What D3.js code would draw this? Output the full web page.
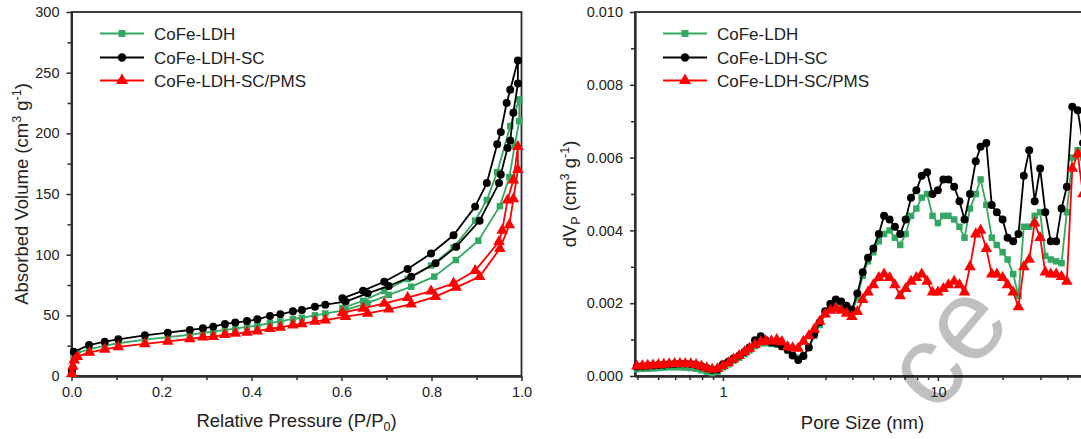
<!DOCTYPE html>
<html>
<head>
<meta charset="utf-8">
<script src="https://cdn.jsdelivr.net/npm/d3@7"></script>
<style>
  body { margin: 0; background: #fff; }
  svg { display: block; font-family: "Liberation Sans", Arial, sans-serif; }
</style>
</head>
<body>
<svg id="chart" width="1081" height="439"></svg>
<script>
// ---- data ----
const seriesNames = ['CoFe-LDH', 'CoFe-LDH-SC', 'CoFe-LDH-SC/PMS'];

// N2 isotherms: adsorption branch then desorption branch, in drawing order
const ldhP = [0.001, 0.005, 0.013, 0.039, 0.074, 0.104, 0.163, 0.214, 0.263, 0.292, 0.315, 0.341, 0.364, 0.39, 0.413, 0.441, 0.464, 0.492, 0.512, 0.541, 0.564, 0.609, 0.658, 0.705, 0.755, 0.806, 0.854, 0.904, 0.952, 0.973, 0.985, 0.995,
              0.995, 0.975, 0.946, 0.923, 0.897, 0.849, 0.799, 0.747, 0.695, 0.648, 0.602];
const ldhV = [3, 17, 19, 22, 25, 27, 30, 32, 34, 35.5, 36.5, 38, 39, 40.5, 41.5, 43.5, 45, 47, 48, 50, 51.5, 54.5, 60, 66.8, 73.6, 81.9, 95.6, 111.5, 140, 164, 190, 210,
              228, 206, 168, 145, 128, 106, 91, 80, 70, 62, 56];

const scP = [0.001, 0.005, 0.039, 0.074, 0.104, 0.163, 0.214, 0.263, 0.292, 0.315, 0.341, 0.364, 0.39, 0.413, 0.441, 0.464, 0.492, 0.512, 0.541, 0.564, 0.609, 0.658, 0.705, 0.755, 0.809, 0.855, 0.907, 0.95, 0.954, 0.969, 0.975, 0.982, 0.992,
             0.992, 0.975, 0.967, 0.954, 0.946, 0.923, 0.897, 0.849, 0.799, 0.747, 0.695, 0.648, 0.602];
const scV = [4, 20, 25.5, 28.3, 30.2, 33.5, 35.7, 37.9, 39.3, 40.7, 42.9, 44, 45.3, 46.7, 49.5, 50.8, 53.3, 54.4, 57.1, 58.8, 61.3, 68.1, 74.2, 81.9, 92.9, 106.6, 128, 159, 166, 188, 194, 217, 241,
             260, 236, 225, 201, 191, 159, 139.6, 116, 101, 88.2, 77.7, 70.3, 64];

const pmsP = [0.001, 0.003, 0.006, 0.013, 0.04, 0.074, 0.104, 0.163, 0.214, 0.263, 0.292, 0.315, 0.341, 0.364, 0.39, 0.413, 0.441, 0.464, 0.492, 0.512, 0.541, 0.564, 0.609, 0.658, 0.705, 0.755, 0.809, 0.855, 0.907, 0.952, 0.973, 0.982, 0.992,
              0.992, 0.982, 0.969, 0.957, 0.95, 0.897, 0.849, 0.799, 0.747, 0.695, 0.648, 0.602];
const pmsV = [2, 8, 13, 16, 19.5, 22, 24, 26.5, 28.5, 30.5, 32, 32.5, 34, 35, 36, 37, 39, 40, 42, 43, 45, 46, 48.9, 51.6, 55, 59.3, 65.4, 73, 81.9, 105, 124.5, 146, 170,
              189, 161.5, 145, 120, 110.7, 86.8, 76.4, 70, 64.6, 59.9, 55.8, 52.2];

// pore size distribution
const poreSize = [0.398, 0.422, 0.447, 0.473, 0.501, 0.531, 0.562, 0.596, 0.631, 0.668, 0.708, 0.750, 0.794, 0.841, 0.891, 0.944,
                  1.00, 1.06, 1.12, 1.19, 1.26, 1.33, 1.41, 1.50, 1.58, 1.68, 1.78, 1.88, 2.00, 2.11, 2.24, 2.37,
                  2.51, 2.66, 2.82, 2.99, 3.16, 3.35, 3.55, 3.76, 3.98, 4.22, 4.47, 4.73,
                  5.01, 5.31, 5.62, 5.96, 6.31, 6.68, 7.08, 7.50, 7.94, 8.41, 8.91, 9.44, 10.0, 10.6, 11.2, 11.9, 12.6, 13.3,
                  14.1, 15.0, 15.8, 16.8, 17.8, 18.8, 20.0, 21.1, 22.4, 23.7, 25.1, 26.6, 28.2, 29.9, 31.6, 33.5, 35.5, 37.6, 39.8, 42.2, 44.7, 47.3];
const poreLDH = [0.00019, 0.00020, 0.00020, 0.00021, 0.00022, 0.00023, 0.00024, 0.00024, 0.00024, 0.00023, 0.00022, 0.00020, 0.00016, 0.00012, 0.00008, 0.00012,
                 0.00024, 0.00032, 0.00042, 0.00050, 0.00060, 0.00070, 0.00082, 0.00090, 0.00090, 0.00088, 0.00086, 0.00080, 0.00070, 0.00058, 0.00050, 0.00056,
                 0.00078, 0.00110, 0.00140, 0.00170, 0.00185, 0.00194, 0.00192, 0.00182, 0.00174, 0.00215, 0.00275, 0.00315,
                 0.0034, 0.0037, 0.0039, 0.0040, 0.0038, 0.0036, 0.0039, 0.0044, 0.0046, 0.0049, 0.0050, 0.0044, 0.0042, 0.0044, 0.0044, 0.0043, 0.0041, 0.0038,
                 0.0046, 0.0050, 0.0054, 0.0047, 0.0038, 0.0036, 0.0034, 0.0032, 0.0028, 0.0022, 0.0041, 0.0041, 0.0044, 0.0045, 0.0033, 0.0032, 0.00315, 0.0031, 0.0045, 0.0060, 0.0062, 0.0060];
const poreSC = [0.00026, 0.00027, 0.00028, 0.00029, 0.00030, 0.00031, 0.00032, 0.00033, 0.00034, 0.00034, 0.00033, 0.00031, 0.00027, 0.00022, 0.00017, 0.00018,
                0.00032, 0.00039, 0.00048, 0.00056, 0.00066, 0.00078, 0.00098, 0.00109, 0.00098, 0.00093, 0.00090, 0.00082, 0.00072, 0.00056, 0.00044, 0.00055,
                0.00078, 0.00115, 0.00148, 0.00178, 0.00198, 0.00210, 0.00205, 0.00193, 0.00182, 0.00227, 0.00285, 0.00325,
                0.0035, 0.0039, 0.0044, 0.0043, 0.0041, 0.0039, 0.0043, 0.0049, 0.0051, 0.0055, 0.0056, 0.0050, 0.0051, 0.0054, 0.0054, 0.0052, 0.0048, 0.0043,
                0.0050, 0.0059, 0.0063, 0.0064, 0.0047, 0.0045, 0.0043, 0.0038, 0.0037, 0.0039, 0.0055, 0.0062, 0.0048, 0.0057, 0.0045, 0.0037, 0.0037, 0.0046, 0.0052, 0.0074, 0.0073, 0.0064];
const porePMS = [0.00027, 0.00028, 0.00029, 0.00030, 0.00031, 0.00032, 0.00033, 0.00034, 0.00034, 0.00034, 0.00033, 0.00031, 0.00027, 0.00022, 0.00018, 0.00020,
                 0.00028, 0.00036, 0.00046, 0.00056, 0.00066, 0.00076, 0.00086, 0.00094, 0.00096, 0.00096, 0.00100, 0.00094, 0.00080, 0.00077, 0.00076, 0.00095,
                 0.00110, 0.00128, 0.00150, 0.00170, 0.00180, 0.00186, 0.00180, 0.00172, 0.00163, 0.00177, 0.00210, 0.00230,
                 0.0025, 0.0027, 0.0028, 0.0027, 0.0025, 0.0022, 0.0024, 0.0026, 0.0027, 0.0028, 0.0026, 0.0023, 0.0023, 0.0024, 0.0025, 0.0026, 0.0025, 0.0023,
                 0.0030, 0.0039, 0.0040, 0.0035, 0.0028, 0.0028, 0.0027, 0.0025, 0.0023, 0.0019, 0.0030, 0.0032, 0.0042, 0.0038, 0.00285, 0.0028, 0.0028, 0.00273, 0.0026, 0.0057, 0.0061, 0.0050];

const leftXTicks = [0, 0.2, 0.4, 0.6, 0.8, 1.0];
const leftYTicks = [0, 50, 100, 150, 200, 250, 300];
const rightXTicks = [1, 10];
const rightYTicks = [0, 0.002, 0.004, 0.006, 0.008, 0.010];

// ---- styles ----
const colors = ['#33a862', '#000000', '#ff0000'];
const symbols = [d3.symbolSquare, d3.symbolCircle, d3.symbolTriangle];
const symSizes = [42, 50, 58];
const axisColor = '#2b2b2b';
const textColor = '#222';

const svg = d3.select('#chart');

function zip(xs, ys) { return xs.map((x, i) => [x, ys[i]]); }

function drawSeries(g, x, y, pts, i) {
  const line = d3.line().x(d => x(d[0])).y(d => y(d[1]));
  g.append('path')
    .attr('d', line(pts))
    .attr('fill', 'none')
    .attr('stroke', colors[i])
    .attr('stroke-width', 1.8)
    .attr('stroke-linejoin', 'round');
  g.selectAll(null)
    .data(pts)
    .enter()
    .append('path')
    .attr('d', d3.symbol().type(symbols[i]).size(symSizes[i]))
    .attr('transform', d => `translate(${x(d[0])},${y(d[1])})`)
    .attr('fill', colors[i]);
}

function styleAxis(sel) {
  sel.select('.domain').attr('stroke', axisColor).attr('stroke-width', 1.8);
  sel.selectAll('.tick line').attr('stroke', axisColor).attr('stroke-width', 1.5);
  sel.selectAll('.tick text')
    .attr('fill', textColor)
    .style('font-size', '14.5px')
    .style('font-family', '"Liberation Sans", Arial, sans-serif');
}

function legend(g, x0, names) {
  const rows = [33.5, 57.5, 80.5];
  names.forEach((n, i) => {
    g.append('line')
      .attr('x1', x0).attr('x2', x0 + 44)
      .attr('y1', rows[i]).attr('y2', rows[i])
      .attr('stroke', colors[i]).attr('stroke-width', 2.2);
    g.append('path')
      .attr('d', d3.symbol().type(symbols[i]).size(symSizes[i] + 6))
      .attr('transform', `translate(${x0 + 22},${rows[i]})`)
      .attr('fill', colors[i]);
    g.append('text')
      .attr('x', x0 + 54).attr('y', rows[i] + 6)
      .attr('fill', textColor)
      .style('font-size', '17px')
      .text(n);
  });
}

// ================= left panel: isotherms =================
const L = { left: 71.5, right: 521.5, top: 12, bottom: 376 };
const xL = d3.scaleLinear().domain([0, 1]).range([L.left, L.right]);
const yL = d3.scaleLinear().domain([0, 300]).range([L.bottom, L.top]);

const gL = svg.append('g');

gL.append('rect')
  .attr('x', L.left).attr('y', L.top)
  .attr('width', L.right - L.left).attr('height', L.bottom - L.top)
  .attr('fill', 'none').attr('stroke', axisColor).attr('stroke-width', 1.8);

// minor ticks
gL.append('g').attr('transform', `translate(0,${L.bottom})`)
  .call(d3.axisBottom(xL).tickValues(d3.range(0.1, 1, 0.2)).tickSize(4).tickSizeOuter(0).tickFormat(''))
  .call(styleAxis);
gL.append('g').attr('transform', `translate(${L.left},0)`)
  .call(d3.axisLeft(yL).tickValues(d3.range(25, 300, 50)).tickSize(4).tickSizeOuter(0).tickFormat(''))
  .call(styleAxis);
// major ticks
gL.append('g').attr('transform', `translate(0,${L.bottom})`)
  .call(d3.axisBottom(xL).tickValues(leftXTicks).tickSize(5).tickSizeOuter(0).tickPadding(6).tickFormat(d3.format('.1f')))
  .call(styleAxis);
gL.append('g').attr('transform', `translate(${L.left},0)`)
  .call(d3.axisLeft(yL).tickValues(leftYTicks).tickSize(5).tickSizeOuter(0).tickPadding(7))
  .call(styleAxis);

const isoSeries = [zip(ldhP, ldhV), zip(scP, scV), zip(pmsP, pmsV)];
isoSeries.forEach((pts, i) => drawSeries(gL, xL, yL, pts, i));

legend(gL, 100, seriesNames);

const xTitleL = gL.append('text')
  .attr('x', (L.left + L.right) / 2).attr('y', 427)
  .attr('text-anchor', 'middle').attr('fill', textColor)
  .style('font-size', '18.5px');
xTitleL.append('tspan').text('Relative Pressure (P/P');
xTitleL.append('tspan').attr('dy', 4).style('font-size', '12.5px').text('0');
xTitleL.append('tspan').attr('dy', -4).text(')');

const yTitleL = gL.append('text')
  .attr('transform', `translate(21.5,${(L.top + L.bottom) / 2}) rotate(-90)`)
  .attr('text-anchor', 'middle').attr('fill', textColor)
  .attr('dy', '0.35em')
  .style('font-size', '18.5px');
yTitleL.append('tspan').text('Absorbed Volume (cm');
yTitleL.append('tspan').attr('dy', -7).style('font-size', '12.5px').text('3');
yTitleL.append('tspan').attr('dy', 7).text(' g');
yTitleL.append('tspan').attr('dy', -7).style('font-size', '12.5px').text('-1');
yTitleL.append('tspan').attr('dy', 7).text(')');

// ================= right panel: pore size distribution =================
const R = { left: 635, right: 1090, top: 12, bottom: 376 };
const xR = d3.scaleLog().domain([0.39, 51]).range([R.left, R.right]);
const yR = d3.scaleLinear().domain([0, 0.01]).range([R.bottom, R.top]);

const gR = svg.append('g');

gR.append('rect')
  .attr('x', R.left).attr('y', R.top)
  .attr('width', R.right - R.left).attr('height', R.bottom - R.top)
  .attr('fill', 'none').attr('stroke', axisColor).attr('stroke-width', 1.8);

const minorLog = [0.4, 0.5, 0.6, 0.7, 0.8, 0.9, 2, 3, 4, 5, 6, 7, 8, 9, 20, 30, 40, 50];
gR.append('g').attr('transform', `translate(0,${R.bottom})`)
  .call(d3.axisBottom(xR).tickValues(minorLog).tickSize(4).tickSizeOuter(0).tickFormat(''))
  .call(styleAxis);
gR.append('g').attr('transform', `translate(${R.left},0)`)
  .call(d3.axisLeft(yR).tickValues(d3.range(0.001, 0.01, 0.002)).tickSize(4).tickSizeOuter(0).tickFormat(''))
  .call(styleAxis);
gR.append('g').attr('transform', `translate(0,${R.bottom})`)
  .call(d3.axisBottom(xR).tickValues(rightXTicks).tickSize(5).tickSizeOuter(0).tickPadding(6).tickFormat(d3.format('d')))
  .call(styleAxis);
gR.append('g').attr('transform', `translate(${R.left},0)`)
  .call(d3.axisLeft(yR).tickValues(rightYTicks).tickSize(5).tickSizeOuter(0).tickPadding(7).tickFormat(d3.format('.3f')))
  .call(styleAxis);

const poreSeries = [zip(poreSize, poreLDH), zip(poreSize, poreSC), zip(poreSize, porePMS)];
poreSeries.forEach((pts, i) => drawSeries(gR, xR, yR, pts, i));

legend(gR, 663, seriesNames);

gR.append('text')
  .attr('x', (R.left + R.right) / 2).attr('y', 429)
  .attr('text-anchor', 'middle').attr('fill', textColor)
  .style('font-size', '18.5px')
  .text('Pore Size (nm)');

const yTitleR = gR.append('text')
  .attr('transform', `translate(570,${(R.top + R.bottom) / 2}) rotate(-90)`)
  .attr('text-anchor', 'middle').attr('fill', textColor)
  .attr('dy', '0.35em')
  .style('font-size', '18.5px');
yTitleR.append('tspan').text('dV');
yTitleR.append('tspan').attr('dy', 4).style('font-size', '12.5px').text('P');
yTitleR.append('tspan').attr('dy', -4).text(' (cm');
yTitleR.append('tspan').attr('dy', -7).style('font-size', '12.5px').text('3');
yTitleR.append('tspan').attr('dy', 7).text(' g');
yTitleR.append('tspan').attr('dy', -7).style('font-size', '12.5px').text('-1');
yTitleR.append('tspan').attr('dy', 7).text(')');

// watermark fragment over the right panel
svg.append('text')
  .attr('transform', 'translate(952,350) rotate(-50)')
  .attr('text-anchor', 'middle')
  .attr('dy', '0.26em')
  .attr('fill', '#000').attr('fill-opacity', 0.25)
  .style('font-size', '115px')
  .text('ce');
</script>
</body>
</html>
